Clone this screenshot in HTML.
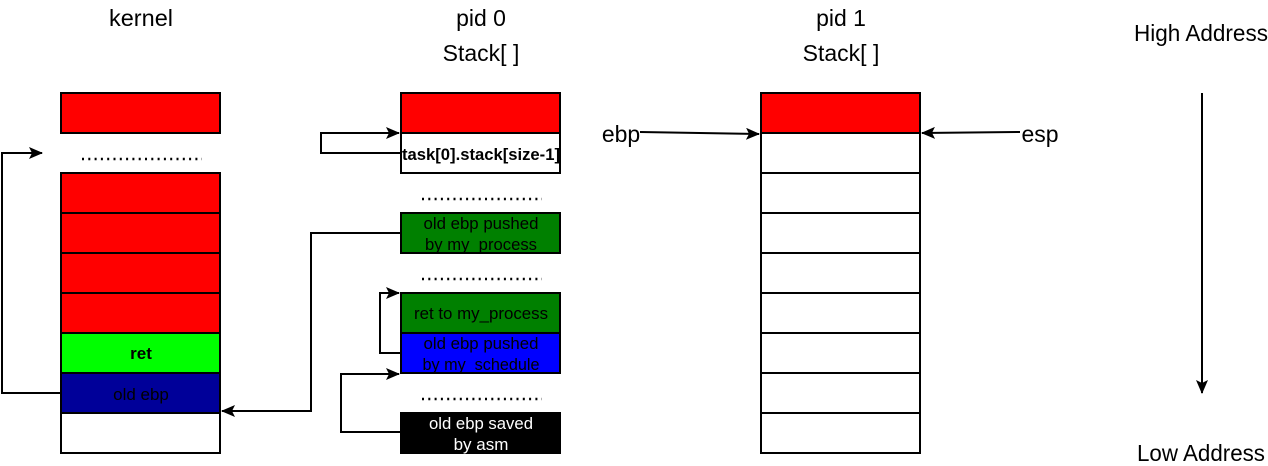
<!DOCTYPE html>
<html><head><meta charset="utf-8"><style>
html,body{margin:0;padding:0;background:#fff;}
svg{display:block;font-family:"Liberation Sans","DejaVu Sans",sans-serif;}
</style></head><body>
<svg width="1268" height="466" viewBox="0 0 1268 466" xmlns="http://www.w3.org/2000/svg">
<defs>
<marker id="ah" markerWidth="14" markerHeight="12" refX="13" refY="6" orient="auto" markerUnits="userSpaceOnUse"><path d="M0,0 L14,6 L0,12 L3,6 Z" fill="#000"/></marker>
</defs>
<g font-size="23" fill="#000" text-anchor="middle">
<text x="141" y="26" textLength="64" lengthAdjust="spacingAndGlyphs">kernel</text>
<text x="481" y="26">pid 0</text>
<text x="481" y="61">Stack[ ]</text>
<text x="841" y="26">pid 1</text>
<text x="841" y="61">Stack[ ]</text>
<text x="1201" y="41" textLength="134" lengthAdjust="spacingAndGlyphs">High Address</text>
<text x="1201" y="461" textLength="128" lengthAdjust="spacingAndGlyphs">Low Address</text>
<text x="621" y="142">ebp</text>
<text x="1040" y="142">esp</text>
</g>
<g stroke="#000" stroke-width="2">
<rect x="61" y="93" width="159" height="40" fill="#ff0000"/>
<rect x="61" y="173" width="159" height="40" fill="#ff0000"/>
<rect x="61" y="213" width="159" height="40" fill="#ff0000"/>
<rect x="61" y="253" width="159" height="40" fill="#ff0000"/>
<rect x="61" y="293" width="159" height="40" fill="#ff0000"/>
<rect x="61" y="333" width="159" height="40" fill="#00ff00"/>
<rect x="61" y="373" width="159" height="40" fill="#000099"/>
<rect x="61" y="413" width="159" height="40" fill="#fff"/>
<rect x="401" y="93" width="159" height="40" fill="#ff0000"/>
<rect x="401" y="133" width="159" height="40" fill="#fff"/>
<rect x="401" y="213" width="159" height="40" fill="#008000"/>
<rect x="401" y="293" width="159" height="40" fill="#008000"/>
<rect x="401" y="333" width="159" height="40" fill="#0000ff"/>
<rect x="401" y="413" width="159" height="40" fill="#000"/>
<rect x="761" y="93" width="159" height="40" fill="#ff0000"/>
<rect x="761" y="133" width="159" height="40" fill="#fff"/>
<rect x="761" y="173" width="159" height="40" fill="#fff"/>
<rect x="761" y="213" width="159" height="40" fill="#fff"/>
<rect x="761" y="253" width="159" height="40" fill="#fff"/>
<rect x="761" y="293" width="159" height="40" fill="#fff"/>
<rect x="761" y="333" width="159" height="40" fill="#fff"/>
<rect x="761" y="373" width="159" height="40" fill="#fff"/>
<rect x="761" y="413" width="159" height="40" fill="#fff"/>
</g>
<g fill="none" stroke="#000" stroke-width="2">
<path d="M61,393 H2 V153 H42" marker-end="url(#ah)"/>
<path d="M401,153 H321 V133 H399" marker-end="url(#ah)"/>
<path d="M401,233 H311 V411 H222" marker-end="url(#ah)"/>
<path d="M401,353 H380 V293 H399" marker-end="url(#ah)"/>
<path d="M401,432 H341 V374 H399" marker-end="url(#ah)"/>
<path d="M640,132 L759,134" marker-end="url(#ah)"/>
<path d="M1020,132 L922,133" marker-end="url(#ah)"/>
<path d="M1202,93 V393" marker-end="url(#ah)"/>
</g>
<g stroke="#000" stroke-width="2.5" stroke-dasharray="2 4.3">
<line x1="82" y1="159" x2="202" y2="159"/>
<line x1="422" y1="199" x2="542" y2="199"/>
<line x1="422" y1="279" x2="542" y2="279"/>
<line x1="422" y1="399" x2="542" y2="399"/>
</g>
<g font-size="17" text-anchor="middle">
<text x="141" y="359" font-weight="bold" fill="#000">ret</text>
<text x="141" y="400" fill="#000">old ebp</text>
<text x="481" y="160" font-weight="bold" fill="#000" textLength="158" lengthAdjust="spacingAndGlyphs">task[0].stack[size-1]</text>
<text x="481" y="229" fill="#000" textLength="115" lengthAdjust="spacingAndGlyphs">old ebp pushed</text>
<text x="481" y="250" fill="#000" textLength="112" lengthAdjust="spacingAndGlyphs">by my_process</text>
<text x="481" y="319" fill="#000" textLength="134" lengthAdjust="spacingAndGlyphs">ret to my_process</text>
<text x="481" y="349" fill="#000" textLength="115" lengthAdjust="spacingAndGlyphs">old ebp pushed</text>
<text x="481" y="370" fill="#000" textLength="117" lengthAdjust="spacingAndGlyphs">by my_schedule</text>
<text x="481" y="429" fill="#fff" textLength="104" lengthAdjust="spacingAndGlyphs">old ebp saved</text>
<text x="481" y="450" fill="#fff">by asm</text>
</g>
</svg>
</body></html>
